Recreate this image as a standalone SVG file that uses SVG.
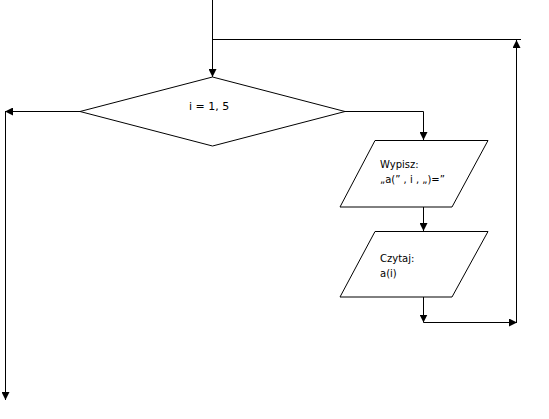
<svg xmlns="http://www.w3.org/2000/svg" width="549" height="419" viewBox="0 0 549 419">
<style>
.shape{fill:#fff;stroke:#000;stroke-width:1}
.line{fill:none;stroke:#000;stroke-width:1}
text{font-family:"DejaVu Sans",Verdana,sans-serif;fill:#000}
.t1{font-size:11px}
.t2{font-size:10px}
</style>
<defs>
<marker id="arr" viewBox="0 0 10 10" refX="10" refY="5" markerWidth="8" markerHeight="8" markerUnits="userSpaceOnUse" orient="auto">
<path d="M0,0 L10,5 L0,10 Z" fill="#000"/>
</marker>
</defs>
<rect width="549" height="419" fill="#fff"/>
<g id="connectors">
<path class="line" d="M212.5,0 V77" marker-end="url(#arr)"/>
<path class="line" d="M80,111.5 H5" marker-end="url(#arr)"/>
<path class="line" d="M5.5,111.5 V400" marker-end="url(#arr)"/>
<path class="line" d="M345,111.5 H423.5 V140" marker-end="url(#arr)"/>
<path class="line" d="M423.5,207 V231" marker-end="url(#arr)"/>
<path class="line" d="M423.5,297 V322.5" marker-end="url(#arr)"/>
<path class="line" d="M423.5,322.5 H517" marker-end="url(#arr)"/>
<path class="line" d="M516.5,323 V40" marker-end="url(#arr)"/>
<path class="line" d="M521,39.5 H212.5"/>
</g>
<g id="decision">
<polygon class="shape" points="212.5,77 80,111.5 212.5,146 345,111.5"/>
<text class="t1" x="189" y="110">i = 1, 5</text>
</g>
<g id="output">
<polygon class="shape" points="375,140.5 488,140.5 452,207 340,207"/>
<text class="t2" x="380" y="168">Wypisz:</text>
<text class="t2" x="380" y="183">„a(” , i , „)=”</text>
</g>
<g id="input">
<polygon class="shape" points="375,231.5 488,231.5 452,297 340,297"/>
<text class="t2" x="380" y="262">Czytaj:</text>
<text class="t2" x="380" y="277">a(i)</text>
</g>
</svg>
